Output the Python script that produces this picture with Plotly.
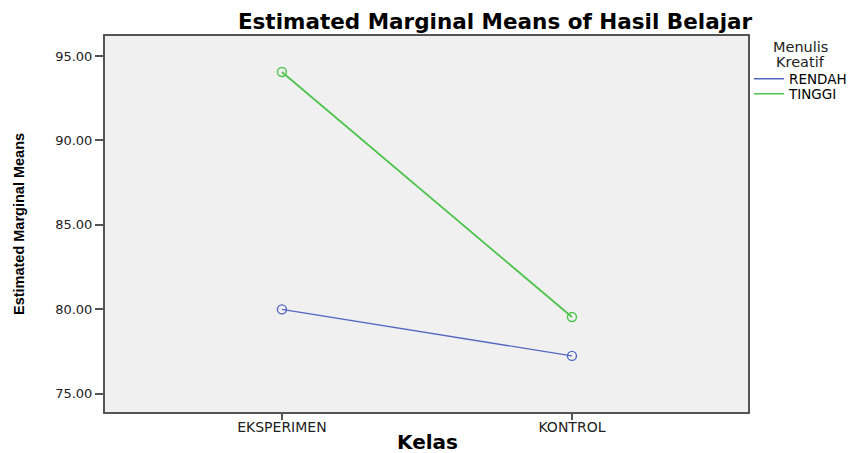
import plotly.graph_objects as go

kelas = ["EKSPERIMEN", "KONTROL"]
series_names = ["RENDAH", "TINGGI"]
rendah = [80.0, 77.25]
tinggi = [94.05, 79.55]
y_ticks = [75, 80, 85, 90, 95]
y_tick_labels = ["75.00", "80.00", "85.00", "90.00", "95.00"]
legend_title_lines = ["Menulis", "Kreatif"]
x_title = "Kelas"
colors = ["#5468c2", "#4ec44e"]

W, H = 857, 453
L, R, T, B = 105, 109, 36, 41
PW, PH = W - L - R, H - T - B

fig = go.Figure()
legend_refs = ["legend", "legend2"]
for name, vals, col, lw, lg in zip(series_names, [rendah, tinggi], colors, [1.3, 1.8], legend_refs):
    fig.add_trace(go.Scatter(x=kelas, y=vals, name=name, mode="lines+markers", showlegend=False,
                             line=dict(color=col, width=lw),
                             marker=dict(symbol="circle-open", size=9, color=col, line=dict(width=1.4))))
    # legend entry (line only, as in the reference)
    fig.add_trace(go.Scatter(x=[None], y=[None], name=name, mode="lines", legend=lg,
                             line=dict(color=col, width=1.6), showlegend=True))


def leg(ypix):
    return dict(xref="container", yref="container", x=749 / W, xanchor="left",
                y=1 - ypix / H, yanchor="middle",
                font=dict(size=13.5, color="black", family="DejaVu Sans, sans-serif"),
                itemwidth=30, bgcolor="rgba(0,0,0,0)", borderwidth=0)


annotations = [dict(text=txt, x=(800 - L) / PW, y=(H - B - ypix) / PH,
                    xref="paper", yref="paper", showarrow=False,
                    xanchor="center", yanchor="middle",
                    font=dict(size=14.5, color="#222"))
               for txt, ypix in zip(legend_title_lines, [47, 62])]
annotations.append(dict(text="<b>" + x_title + "</b>", x=(427 - L) / PW, y=(H - B - 442) / PH,
                        xref="paper", yref="paper", showarrow=False,
                        xanchor="center", yanchor="middle",
                        font=dict(size=20, color="black")))

fig.update_layout(
    width=W, height=H,
    margin=dict(l=L, r=R, t=T, b=B, autoexpand=False),
    paper_bgcolor="white", plot_bgcolor="#f0f0f0",
    font=dict(family="DejaVu Sans, Liberation Sans, sans-serif", color="#222"),
    title=dict(text="<b>Estimated Marginal Means of Hasil Belajar</b>", x=495 / W, xanchor="center",
               y=1 - 21 / H, yanchor="middle",
               font=dict(size=21.5, color="black", family="DejaVu Sans, sans-serif")),
    showlegend=True,
    legend=leg(79),
    legend2=leg(94),
    xaxis=dict(type="category", range=[-0.61, 1.607], showgrid=False, zeroline=False,
               automargin=False,
               showline=True, linecolor="#555", linewidth=2, mirror=True,
               ticks="outside", ticklen=6, tickcolor="#555", tickwidth=2,
               ticklabelstandoff=-5,
               tickfont=dict(size=14, color="#222")),
    yaxis=dict(range=[73.93, 96.18], tickvals=y_ticks, ticktext=y_tick_labels,
               showgrid=False, zeroline=False, automargin=False,
               showline=True, linecolor="#555", linewidth=2, mirror=True,
               ticks="outside", ticklen=8, tickcolor="#555", tickwidth=2,
               tickfont=dict(size=13, color="#222"),
               title=dict(text="<b>Estimated Marginal Means</b>",
                          font=dict(size=14.5, color="black", family="Liberation Sans, Arial, sans-serif"),
                          standoff=27)),
    annotations=annotations,
)
fig.write_html("out.html", config={"displayModeBar": False},
               post_script="document.body.style.margin='0px';")
